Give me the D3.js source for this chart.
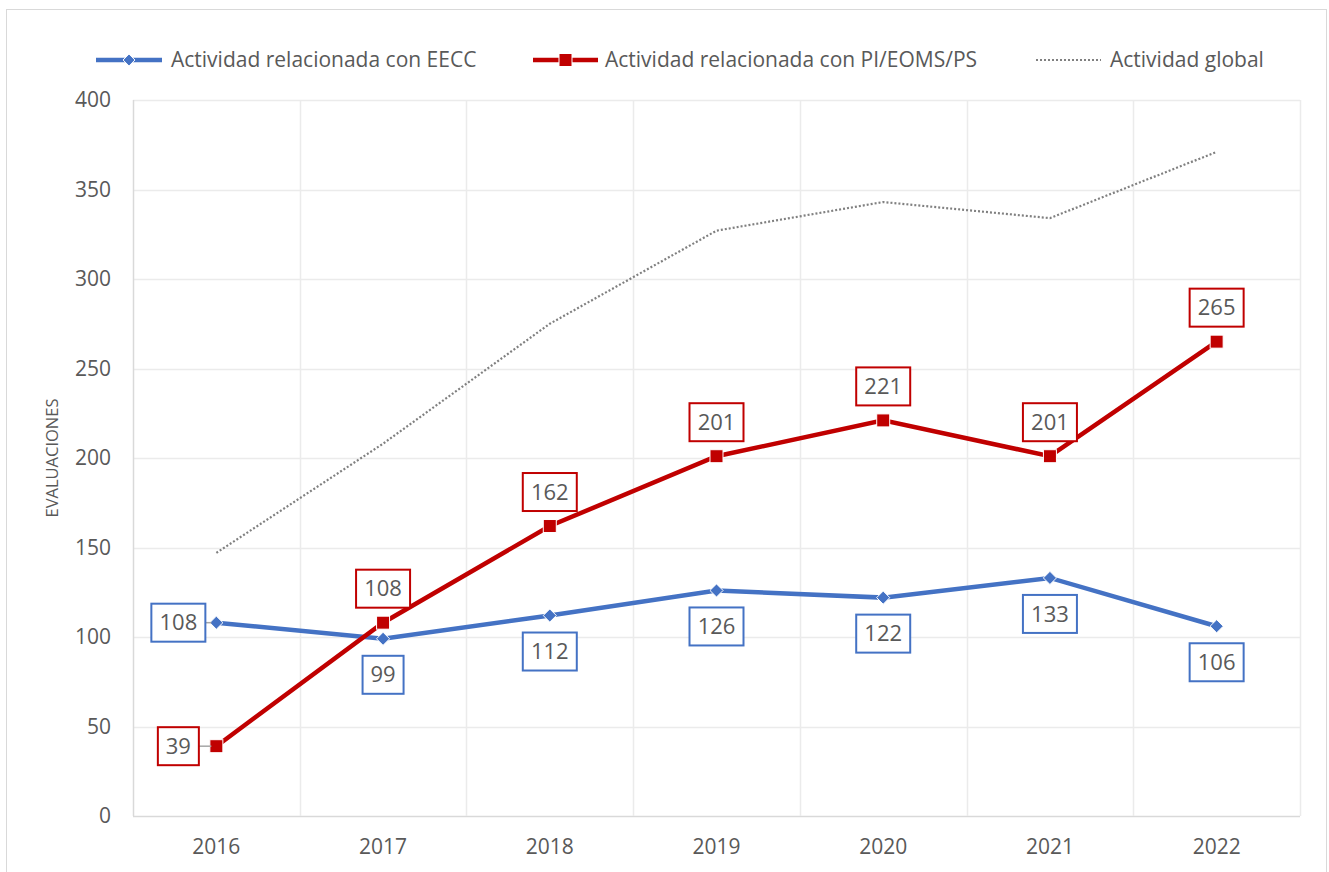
<!DOCTYPE html>
<meta charset="utf-8">
<html>
<head>
<script src="https://cdn.jsdelivr.net/npm/d3@7"></script>
<style>
  body { margin: 0; background: #fff; }
  svg text { font-family: "Open Sans", "Noto Sans", sans-serif; fill: #595959; }
</style>
</head>
<body>
<div id="chart"></div>
<script>
  // data
  const years = ["2016", "2017", "2018", "2019", "2020", "2021", "2022"];
  const eecc = [108, 99, 112, 126, 122, 133, 106];
  const pi = [39, 108, 162, 201, 221, 201, 265];
  const global = [147, 208, 275, 327, 343, 334, 371];
  const yTicks = [0, 50, 100, 150, 200, 250, 300, 350, 400];
  // where each data label sits relative to its point
  const eeccPos = ["left", "below", "below", "below", "below", "below", "below"];
  const piPos = ["left", "above", "above", "above", "above", "above", "above"];

  const W = 1329, H = 872;
  const margin = {top: 100, right: 29, bottom: 56, left: 133};
  const width = W - margin.left - margin.right,
        height = H - margin.top - margin.bottom;

  const svg = d3.select("#chart").append("svg")
      .attr("width", W).attr("height", H);

  // chart border
  svg.append("rect")
    .attr("x", 6.5).attr("y", 9.5)
    .attr("width", 1320).attr("height", 880)
    .attr("fill", "none").attr("stroke", "#d9d9d9");

  const g = svg.append("g")
      .attr("transform", `translate(${margin.left},${margin.top})`);

  const x = d3.scaleBand().domain(years).range([0, width]);
  const y = d3.scaleLinear().domain([0, 400]).range([height, 0]);
  const cx = d => x(d) + x.bandwidth() / 2;

  // horizontal gridlines
  g.append("g").selectAll("line").data(yTicks).join("line")
    .attr("x1", 0).attr("x2", width)
    .attr("y1", d => Math.round(y(d)) + 0.5).attr("y2", d => Math.round(y(d)) + 0.5)
    .attr("stroke", d => d === 0 ? "#d9d9d9" : "#ebebeb").attr("stroke-width", 1.5);

  // vertical gridlines at band edges
  g.append("g").selectAll("line").data(years.concat(["end"])).join("line")
    .attr("x1", (d, i) => Math.round(i * x.step()) + 0.5)
    .attr("x2", (d, i) => Math.round(i * x.step()) + 0.5)
    .attr("y1", 0).attr("y2", height)
    .attr("stroke", (d, i) => i === 0 ? "#d9d9d9" : "#ebebeb").attr("stroke-width", 1.5);

  // axes
  const yAxis = g.append("g").call(d3.axisLeft(y).tickValues(yTicks).tickSize(0).tickPadding(22));
  yAxis.select(".domain").remove();
  yAxis.selectAll("text").style("font-size", "21px").attr("fill", "#595959");

  const xAxis = g.append("g").attr("transform", `translate(0,${height})`)
    .call(d3.axisBottom(x).tickSize(0).tickPadding(23));
  xAxis.select(".domain").remove();
  xAxis.selectAll("text").style("font-size", "21px").attr("fill", "#595959");

  svg.append("text")
    .attr("transform", `translate(58,${margin.top + y(200)}) rotate(-90)`)
    .attr("text-anchor", "middle")
    .style("font-size", "16.5px")
    .text("EVALUACIONES");

  const line = d3.line().x((d, i) => cx(years[i])).y(d => y(d));

  // global activity (dotted)
  g.append("path").datum(global)
    .attr("d", line).attr("fill", "none")
    .attr("stroke", "#808080").attr("stroke-width", 2.2)
    .attr("stroke-dasharray", "2,2");

  // EECC line
  g.append("path").datum(eecc)
    .attr("d", line).attr("fill", "none")
    .attr("stroke", "#4472C4").attr("stroke-width", 4.5);
  g.append("g").selectAll("path").data(eecc).join("path")
    .attr("transform", (d, i) => `translate(${cx(years[i])},${y(d)})`)
    .attr("d", d3.symbol(d3.symbolDiamond2, 110))
    .attr("fill", "#4472C4").attr("stroke", "#fff").attr("stroke-width", 1);

  // PI/EOMS/PS line
  g.append("path").datum(pi)
    .attr("d", line).attr("fill", "none")
    .attr("stroke", "#C00000").attr("stroke-width", 4.5);
  g.append("g").selectAll("rect").data(pi).join("rect")
    .attr("x", (d, i) => cx(years[i]) - 6.5)
    .attr("y", d => y(d) - 6.5)
    .attr("width", 13).attr("height", 13)
    .attr("fill", "#C00000").attr("stroke", "#fff").attr("stroke-width", 1);

  // data labels with boxes
  function labels(values, pos, color) {
    values.forEach((v, i) => {
      const px = cx(years[i]), py = y(v);
      const txt = String(v);
      const bw = txt.length === 3 ? 54 : 41, bh = 38;
      let lx = px, ly = py;
      if (pos[i] === "below") ly = py + 36;
      else if (pos[i] === "above") ly = py - 34;
      else { lx = px - 38; }
      if (pos[i] === "left") {
        g.append("line")
          .attr("x1", lx + bw / 2).attr("x2", px - 5)
          .attr("y1", ly).attr("y2", py)
          .attr("stroke", "#a6a6a6").attr("stroke-width", 1.5);
      }
      g.append("rect")
        .attr("x", lx - bw / 2).attr("y", ly - bh / 2)
        .attr("width", bw).attr("height", bh)
        .attr("fill", "#fff").attr("stroke", color).attr("stroke-width", 2);
      g.append("text")
        .attr("x", lx).attr("y", ly)
        .attr("text-anchor", "middle").attr("dy", "0.35em")
        .style("font-size", "22px").attr("fill", "#404040")
        .text(txt);
    });
  }
  labels(eecc, eeccPos, "#4472C4");
  labels(pi, piPos, "#C00000");

  // legend
  const leg = svg.append("g");
  const ly = 60;
  leg.append("line").attr("x1", 96).attr("x2", 162).attr("y1", ly).attr("y2", ly)
    .attr("stroke", "#4472C4").attr("stroke-width", 4.5);
  leg.append("path").attr("transform", `translate(129,${ly})`)
    .attr("d", d3.symbol(d3.symbolDiamond2, 90))
    .attr("fill", "#4472C4").attr("stroke", "#fff").attr("stroke-width", 1);
  leg.append("text").attr("x", 171).attr("y", ly).attr("dy", "0.35em")
    .style("font-size", "21px").text("Actividad relacionada con EECC");

  leg.append("line").attr("x1", 533).attr("x2", 598).attr("y1", ly).attr("y2", ly)
    .attr("stroke", "#C00000").attr("stroke-width", 4.5);
  leg.append("rect").attr("x", 559).attr("y", ly - 6.5).attr("width", 13).attr("height", 13)
    .attr("fill", "#C00000").attr("stroke", "#fff").attr("stroke-width", 1);
  leg.append("text").attr("x", 605).attr("y", ly).attr("dy", "0.35em")
    .style("font-size", "21px").text("Actividad relacionada con PI/EOMS/PS");

  leg.append("line").attr("x1", 1036).attr("x2", 1101).attr("y1", ly).attr("y2", ly)
    .attr("stroke", "#808080").attr("stroke-width", 2.2).attr("stroke-dasharray", "2,2");
  leg.append("text").attr("x", 1110).attr("y", ly).attr("dy", "0.35em")
    .style("font-size", "21px").text("Actividad global");
</script>
</body>
</html>
